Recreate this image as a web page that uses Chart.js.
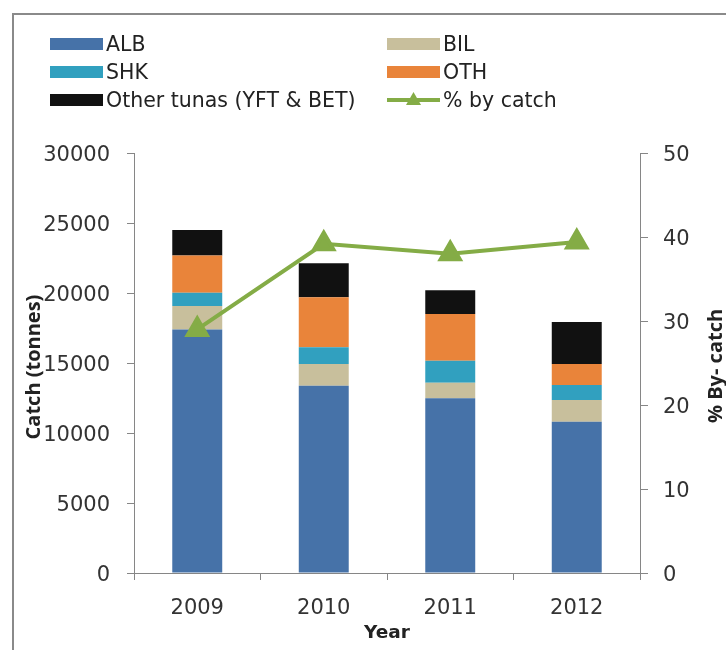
<!DOCTYPE html>
<html>
<head>
<meta charset="utf-8">
<script src="https://cdn.jsdelivr.net/npm/chart.js@4"></script>
<style>
  html, body { margin: 0; padding: 0; background: #fff; overflow: hidden; }
  #frame { position: absolute; left: 12px; top: 13px; width: 800px; height: 700px; border: 2px solid #8a8a8a; }
  #myChart { position: absolute; left: 0; top: 0; }
</style>
</head>
<body>
<div id="frame"></div>
<canvas id="myChart" width="726" height="650"></canvas>
<script>
const years = ['2009', '2010', '2011', '2012'];
const alb = [17400, 13380, 12480, 10810];
const bil = [1670, 1550, 1110, 1550];
const shk = [950, 1190, 1570, 1070];
const oth = [2650, 3570, 3340, 1500];
const otherTunas = [1830, 2430, 1690, 3000];
const byCatch = [29, 39.2, 38, 39.4];

const tickFont = { family: 'DejaVu Sans', size: 21 };
const axisGray = '#868686';
const plainNumber = value => String(value);

// legend + axis titles drawn by hand so they can sit where the original has them
const extrasPlugin = {
    id: 'extras',
    afterDraw(chart) {
        const ctx = chart.ctx;
        const sets = chart.data.datasets;
        const cols = [50, 387];
        const rows = [44, 72, 100];
        ctx.save();
        ctx.font = '20.5px "DejaVu Sans"';
        ctx.textBaseline = 'middle';
        ctx.textAlign = 'left';
        sets.forEach((ds, i) => {
            const x = cols[i % 2];
            const y = rows[Math.floor(i / 2)];
            if (ds.type === 'line') {
                ctx.strokeStyle = ds.borderColor;
                ctx.lineWidth = 4;
                ctx.beginPath();
                ctx.moveTo(x, y);
                ctx.lineTo(x + 53, y);
                ctx.stroke();
                ctx.fillStyle = ds.borderColor;
                ctx.beginPath();
                ctx.moveTo(x + 26.5, y - 8);
                ctx.lineTo(x + 34, y + 5);
                ctx.lineTo(x + 19, y + 5);
                ctx.closePath();
                ctx.fill();
            } else {
                ctx.fillStyle = ds.backgroundColor;
                ctx.fillRect(x, y - 6, 53, 12);
            }
            ctx.fillStyle = '#222';
            ctx.fillText(ds.label, x + 56, y + 2);
        });

        ctx.fillStyle = '#222';
        ctx.font = 'bold 20px "Open Sans"';
        ctx.textAlign = 'center';
        const a = chart.chartArea;
        const midY = (a.top + a.bottom) / 2;
        ctx.save();
        ctx.translate(34, midY + 4);
        ctx.rotate(-Math.PI / 2);
        ctx.fillText('Catch (tonnes)', 0, 0);
        ctx.restore();
        ctx.save();
        ctx.translate(716, midY + 3);
        ctx.rotate(-Math.PI / 2);
        ctx.fillText('% By- catch', 0, 0);
        ctx.restore();
        ctx.font = 'bold 18.5px "DejaVu Sans"';
        ctx.fillText('Year', (a.left + a.right) / 2, 633);
        ctx.restore();
    }
};

const ctx = document.getElementById('myChart').getContext('2d');
const myChart = new Chart(ctx, {
    type: 'bar',
    data: {
        labels: years,
        datasets: [
            { label: 'ALB', data: alb, backgroundColor: '#4672A8', order: 1 },
            { label: 'BIL', data: bil, backgroundColor: '#C8BF9C', order: 1 },
            { label: 'SHK', data: shk, backgroundColor: '#31A0BF', order: 1 },
            { label: 'OTH', data: oth, backgroundColor: '#E9843A', order: 1 },
            { label: 'Other tunas (YFT & BET)', data: otherTunas, backgroundColor: '#111111', order: 1 },
            {
                type: 'line',
                label: '% by catch',
                data: byCatch,
                yAxisID: 'y1',
                borderColor: '#84AC46',
                backgroundColor: '#84AC46',
                borderWidth: 4,
                pointStyle: 'triangle',
                pointRadius: 11,
                pointHoverRadius: 11,
                order: 0
            }
        ]
    },
    options: {
        responsive: false,
        animation: false,
        datasets: {
            bar: { categoryPercentage: 1, barPercentage: 0.395 }
        },
        layout: { padding: { top: 153, left: 0, right: 0, bottom: 0 } },
        plugins: {
            legend: { display: false },
            tooltip: { enabled: false }
        },
        scales: {
            x: {
                stacked: true,
                afterFit: scale => { scale.height = 77; },
                grid: { drawOnChartArea: false, tickLength: 7, color: axisGray, offset: true },
                border: { color: axisGray },
                ticks: { font: tickFont, color: '#333', padding: 16 }
            },
            y: {
                stacked: true,
                min: 0,
                max: 30000,
                afterFit: scale => { scale.width = 134; },
                grid: { drawOnChartArea: false, tickLength: 7, color: axisGray },
                border: { color: axisGray },
                ticks: { stepSize: 5000, font: tickFont, color: '#333', padding: 17, labelOffset: 3, callback: plainNumber }
            },
            y1: {
                position: 'right',
                min: 0,
                max: 50,
                afterFit: scale => { scale.width = 86; },
                grid: { drawOnChartArea: false, tickLength: 8, color: axisGray },
                border: { color: axisGray },
                ticks: { stepSize: 10, font: tickFont, color: '#333', padding: 15, labelOffset: 3, callback: plainNumber }
            }
        }
    },
    plugins: [extrasPlugin]
});
</script>
</body>
</html>
